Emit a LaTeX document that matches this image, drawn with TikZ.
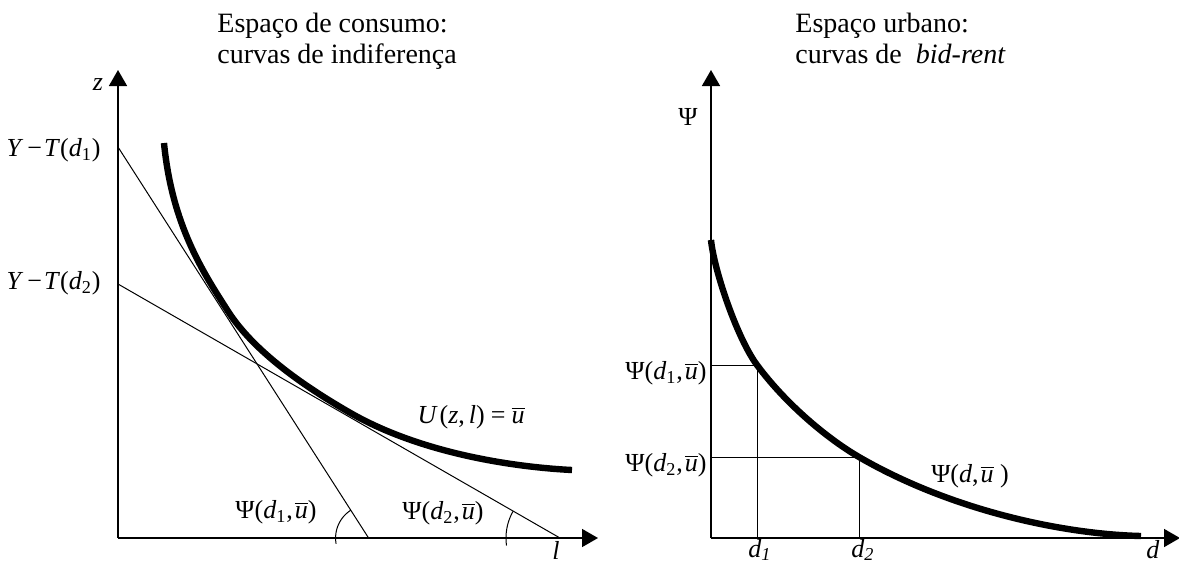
\documentclass[tikz,border=0pt]{standalone}
\usepackage{fontspec}
\setmainfont{Liberation Serif}
\usetikzlibrary{arrows.meta}
\newcommand{\myu}{\ensuremath{\overline{\mbox{\itshape u}}}}
\newcommand{\psil}[1]{Ψ(\textit{d}\textsubscript{#1},\kern1pt\myu)}
\begin{document}
\begin{tikzpicture}[x=0.5pt,y=-0.5pt,
  axis/.style={line width=0.8pt,-{Triangle[length=8pt,width=9pt]}},
  guide/.style={line width=0.5pt},
  bigcurve/.style={line width=3.2pt},
  lab/.style={font=\fontsize{13}{15}\selectfont, inner sep=0pt},
  ttl/.style={font=\fontsize{14}{16}\selectfont, inner sep=0pt, anchor=base west}]
\useasboundingbox (0,0) rectangle (1179,564);

% ---------- titles ----------
\node[ttl] (t1a) at (217,32) {Espaço de consumo:};
\node[ttl] (t1b) at (217,63) {curvas de indiferença};
\node[ttl] (t2a) at (795,32) {Espaço urbano:};
\node[ttl] (t2b) at (795,63) {curvas de \ \textit{bid-rent}};

% ---------- left panel ----------
\coordinate (O1) at (118,538);
\coordinate (Ztip) at (118,70);
\coordinate (Ltip) at (598,538);
\coordinate (A1) at (118,147);
\coordinate (B1) at (368.6,538);
\coordinate (A2) at (118,284);
\coordinate (B2) at (560,538);

\draw[guide] (A1) -- (B1);
\draw[guide] (A2) -- (B2);
\draw[axis] (O1) -- (Ztip);
\draw[axis] (O1) -- (Ltip);

\coordinate (S) at (164,143);
\coordinate (T1) at (228,311.2);
\coordinate (T2) at (350,412.7);
\coordinate (E) at (572,470);
\draw[bigcurve] (S) .. controls (172,225) and (203,272.2) .. (T1)
  .. controls (249.3,344.4) and (289.9,378.2) .. (T2)
  .. controls (420,452.9) and (512,467) .. (E);

\draw[guide] plot[domain=122.7:190, samples=30] ({368.6+33*cos(\x)},{538-33*sin(\x)});
\draw[guide] plot[domain=150.1:188, samples=30] ({560+54*cos(\x)},{538-54*sin(\x)});

\node[lab] (lz) at (98,85) {\textit{z}};
\node[lab] (ll) at (556,550) {\textit{l}};
\node[lab, anchor=east] (ly1) at (101,150) {\textit{Y}\kern2pt−\kern1pt\textit{T}(\textit{d}\textsubscript{1})};
\node[lab, anchor=east] (ly2) at (101,283) {\textit{Y}\kern2pt−\kern1pt\textit{T}(\textit{d}\textsubscript{2})};
\node[lab] (lp1) at (276,512) {\psil{1}};
\node[lab] (lp2) at (443,513) {\psil{2}};
\node[lab] (lu) at (471,417) {\textit{U}\kern1pt(\textit{z},\kern2pt\textit{l})\kern3pt=\kern3pt\myu};

% ---------- right panel ----------
\coordinate (O2) at (711,538);
\coordinate (Ptip) at (711,70);
\coordinate (Dtip) at (1180,538);
\coordinate (Q0) at (711,240);
\coordinate (P1) at (757,365);
\coordinate (P2) at (859,457);
\coordinate (Q3) at (1141,536);
\coordinate (H1) at (711,365);
\coordinate (V1) at (757,538);
\coordinate (H2) at (711,457);
\coordinate (V2) at (859,538);

\draw[guide] (H1) -- (P1) -- (V1);
\draw[guide] (H2) -- (P2) -- (V2);
\draw[axis] (O2) -- (Ptip);
\draw[axis] (O2) -- (Dtip);

\draw[bigcurve] (Q0) .. controls (714,270) and (737,338) .. (P1)
  .. controls (787,405.5) and (829,439.6) .. (P2)
  .. controls (949,509.2) and (1060,534) .. (Q3);

\node[lab] (lpsi) at (688,117) {Ψ};
\node[lab] (ld) at (1153,550) {\textit{d}};
\node[lab] (ld1) at (760,550) {\textit{d}\textsubscript{\textit{1}}};
\node[lab] (ld2) at (863,550) {\textit{d}\textsubscript{\textit{2}}};
\node[lab, anchor=east] (lq1) at (707,373) {\psil{1}};
\node[lab, anchor=east] (lq2) at (707,465) {\psil{2}};
\node[lab] (lq) at (970,476) {Ψ(\textit{d},\kern1pt\myu\ )};
\end{tikzpicture}
\end{document}
